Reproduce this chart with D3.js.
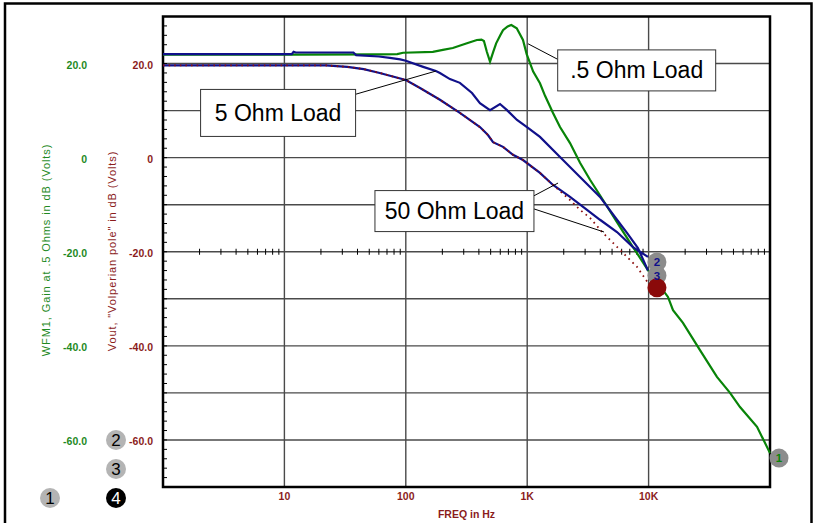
<!DOCTYPE html>
<html>
<head>
<meta charset="utf-8">
<script src="https://cdn.jsdelivr.net/npm/d3@7"></script>
<style>
  body { margin: 0; background: #fff; }
  svg { font-family: "Liberation Sans", Arial, sans-serif; }
</style>
</head>
<body>
<svg width="817" height="523"></svg>
<script>
// Gain vs frequency, three loads plus the "Volperian pole" model
const greenFreq = [1, 12, 60, 85, 95, 167, 202, 244, 319, 385, 420, 440, 465, 494, 525, 555, 600, 632, 690, 740, 820, 923, 990, 1120, 1274, 1400, 1632, 1863, 2253, 2723, 3292, 4210, 5808, 7436, 9878, 14440, 15890, 19190, 26500, 36560, 46850, 56620, 78200, 100000]
const greenDb = [21.9, 21.9, 21.95, 22.0, 22.3, 22.5, 22.9, 23.3, 24.3, 25.0, 25.1, 24.8, 22.5, 20.4, 22.5, 24.3, 26.0, 27.1, 27.9, 28.2, 27.5, 25.0, 22.0, 18.3, 15.8, 13.2, 9.5, 6.5, 3.1, -1.1, -4.7, -9.0, -14.7, -19.0, -23.9, -29.6, -32.4, -35.1, -40.9, -46.6, -50.0, -53.0, -57.2, -62.8]

const blue2Freq = [1, 11.5, 11.9, 12.4, 37, 39, 60, 74, 90, 100, 139, 177, 191, 231, 279, 351, 408, 494, 597, 682, 824, 996, 1274, 1863, 2723, 3978, 5491, 6637, 8171, 9878]
const blue2Db = [22.0, 22.0, 22.5, 22.35, 22.35, 21.8, 21.5, 21.2, 20.9, 20.6, 19.3, 18.4, 18.0, 16.7, 15.9, 13.75, 11.6, 10.1, 11.4, 10.1, 8.0, 6.5, 4.4, 0.15, -4.1, -8.35, -13.2, -16.0, -19.2, -24.0]

const blue3Freq = [1, 22, 33, 45, 61, 100, 131, 191, 279, 408, 475, 523, 632, 764, 923, 1274, 1632, 2253, 3110, 3978, 5491, 7436, 9878]
const blue3Db = [19.6, 19.6, 19.3, 18.8, 18.0, 16.5, 14.8, 12.3, 9.5, 6.5, 4.8, 3.3, 2.3, 0.6, -0.5, -3.25, -5.8, -8.35, -11.1, -13.2, -15.8, -19.0, -21.1]

const redFreq = [1, 22, 33, 45, 61, 100, 131, 191, 279, 408, 475, 523, 632, 764, 923, 1274, 1632, 2253, 2723, 3292, 4210, 5089, 6637, 8021, 9878]
const redDb = [19.6, 19.6, 19.3, 18.8, 18.0, 16.5, 14.8, 12.3, 9.5, 6.5, 4.8, 3.3, 2.3, 0.6, -0.5, -3.25, -5.8, -9.0, -11.1, -12.8, -16.0, -18.1, -21.1, -23.2, -26.6]

const xTicks = [10, 100, 1000, 10000]
const xTickLabels = ['10', '100', '1K', '10K']
const yTicks = [20, 0, -20, -40, -60]
const yTickLabels = ['20.0', '0', '-20.0', '-40.0', '-60.0']

const loadLabels = ['.5 Ohm Load', '5 Ohm Load', '50 Ohm Load']
const loadBoxFreq = [1783, 2.04, 55.7]
const loadBoxDb = [22.9, 14.5, -7.0]
// leaders: [target freq, target dB, attach freq, attach dB]
const loadLeaders = [
  [[1016, 24.2, 1783, 20.9]],
  [[177, 18.4, 38.9, 13.5]],
  [[1795, -5.4, 1138, -8.1], [4295, -15.8, 1138, -10.9]]
]

const colors = { green: '#088408', blue: '#10108a', red: '#8b0c0c', greenText: '#1f8a1f', redText: '#8b1c1c' }

const dim = { left: 163, right: 770, top: 16.5, bottom: 487 }
const svg = d3.select('svg')

const xScale = d3.scaleLog().domain([1, 100000]).range([dim.left, dim.right])
const yScale = d3.scaleLinear().domain([-70, 30]).range([dim.bottom, dim.top])

function toPoints (freq, db) {
  return freq.map((f, i) => ({ f, db: db[i] }))
}

function drawFrame () {
  svg.append('path')
    .attr('d', 'M5,523 L5,3.5 L811.5,3.5 L811.5,523')
    .attr('fill', 'none').attr('stroke', '#000').attr('stroke-width', 2.5)
}

function drawGrid () {
  const g = svg.append('g').attr('stroke', '#4a4a4a').attr('stroke-width', 1.4)
  d3.range(-60, 30, 10).forEach((v) => {
    g.append('line')
      .attr('x1', dim.left).attr('x2', dim.right)
      .attr('y1', yScale(v)).attr('y2', yScale(v))
  })
  xTicks.forEach((v) => {
    g.append('line')
      .attr('x1', xScale(v)).attr('x2', xScale(v))
      .attr('y1', dim.top).attr('y2', dim.bottom)
  })

  // minor log ticks sitting on the -20 line
  const t = svg.append('g').attr('stroke', '#000').attr('stroke-width', 1)
  for (let d = 0; d < 5; d++) {
    for (let m = 2; m <= 9; m++) {
      const x = xScale(m * Math.pow(10, d))
      t.append('line').attr('x1', x).attr('x2', x)
        .attr('y1', yScale(-20) - 3).attr('y2', yScale(-20) + 3)
    }
  }

  // minor ticks on the left axis, every 2 dB
  d3.range(-68, 30, 2).forEach((v) => {
    t.append('line')
      .attr('x1', dim.left).attr('x2', dim.left + 4)
      .attr('y1', yScale(v)).attr('y2', yScale(v))
  })

  svg.append('rect')
    .attr('x', dim.left).attr('y', dim.top)
    .attr('width', dim.right - dim.left).attr('height', dim.bottom - dim.top)
    .attr('fill', 'none').attr('stroke', '#000').attr('stroke-width', 2.5)
}

function drawAxisText () {
  const lab = svg.append('g').attr('font-size', 10.5).attr('font-weight', 'bold')
  yTicks.forEach((v, i) => {
    lab.append('text').attr('x', 87).attr('y', yScale(v) + 5)
      .attr('text-anchor', 'end').attr('fill', colors.greenText).text(yTickLabels[i])
    lab.append('text').attr('x', 153).attr('y', yScale(v) + 5)
      .attr('text-anchor', 'end').attr('fill', colors.redText).text(yTickLabels[i])
  })
  xTicks.forEach((v, i) => {
    lab.append('text').attr('x', xScale(v)).attr('y', 500)
      .attr('text-anchor', 'middle').attr('fill', colors.redText).text(xTickLabels[i])
  })
  lab.append('text').attr('x', (dim.left + dim.right) / 2).attr('y', 518)
    .attr('text-anchor', 'middle').attr('fill', colors.redText).text('FREQ in Hz')

  svg.append('text')
    .attr('transform', 'translate(50,250) rotate(-90)')
    .attr('text-anchor', 'middle').attr('font-size', 11).attr('letter-spacing', 0.9)
    .attr('fill', colors.greenText)
    .text('WFM1, Gain at .5 Ohms in dB (Volts)')
  svg.append('text')
    .attr('transform', 'translate(116,251) rotate(-90)')
    .attr('text-anchor', 'middle').attr('font-size', 11).attr('letter-spacing', 0.9)
    .attr('fill', colors.redText)
    .text('Vout, "Volperian pole" in dB (Volts)')
}

function drawCurves () {
  const line = d3.line()
    .x((d) => xScale(d.f))
    .y((d) => yScale(d.db))

  svg.append('path').datum(toPoints(greenFreq, greenDb))
    .attr('d', line).attr('fill', 'none')
    .attr('stroke', colors.green).attr('stroke-width', 2.2)
  svg.append('path').datum(toPoints(blue3Freq, blue3Db))
    .attr('d', line).attr('fill', 'none')
    .attr('stroke', colors.blue).attr('stroke-width', 2.2)
  svg.append('path').datum(toPoints(blue2Freq, blue2Db))
    .attr('d', line).attr('fill', 'none')
    .attr('stroke', colors.blue).attr('stroke-width', 2.2)
  svg.append('path').datum(toPoints(redFreq, redDb))
    .attr('d', line).attr('fill', 'none')
    .attr('stroke', colors.red).attr('stroke-width', 1.8)
    .attr('stroke-dasharray', '1.6,4')
}

function endPos (freq, db) {
  return [xScale(freq[freq.length - 1]) + 9, yScale(db[db.length - 1]) + 5]
}

function drawMarkers () {
  const ends = [
    [blue3Freq, blue3Db, '#8c8c8c', '2', colors.blue],
    [blue2Freq, blue2Db, '#8c8c8c', '3', colors.blue],
    [redFreq, redDb, '#8a0a0a', '', colors.red],
    [greenFreq, greenDb, '#8c8c8c', '1', colors.green]
  ]
  // circles first, numbers on top
  ends.forEach(([f, db, fill]) => {
    const [x, y] = endPos(f, db)
    svg.append('circle').attr('cx', x).attr('cy', y).attr('r', 9.5).attr('fill', fill)
  })
  ends.forEach(([f, db, fill, label, tc]) => {
    if (!label) return
    const [x, y] = endPos(f, db)
    svg.append('text').attr('x', x).attr('y', y + 4)
      .attr('text-anchor', 'middle').attr('font-size', 11.5).attr('font-weight', 'bold')
      .attr('fill', tc).text(label)
  })

  // key circles bottom left
  const keys = [[50, 498, '1', '#b4b4b4', '#000'], [116, 440, '2', '#b4b4b4', '#000'],
    [116, 469, '3', '#b4b4b4', '#000'], [116, 498, '4', '#000', '#fff']]
  keys.forEach(([x, y, t, fill, tc]) => {
    svg.append('circle').attr('cx', x).attr('cy', y).attr('r', 10).attr('fill', fill)
    svg.append('text').attr('x', x).attr('y', y + 6)
      .attr('text-anchor', 'middle').attr('font-size', 17).attr('fill', tc).text(t)
  })
}

function drawLabels () {
  const sizes = [[158, 41], [155, 47], [159, 41]]
  loadLabels.forEach((txt, i) => {
    loadLeaders[i].forEach(([tf, tdb, af, adb]) => {
      svg.append('line')
        .attr('x1', xScale(tf)).attr('y1', yScale(tdb))
        .attr('x2', xScale(af)).attr('y2', yScale(adb))
        .attr('stroke', '#000').attr('stroke-width', 1)
    })
    const x = xScale(loadBoxFreq[i])
    const y = yScale(loadBoxDb[i])
    svg.append('rect').attr('x', x).attr('y', y)
      .attr('width', sizes[i][0]).attr('height', sizes[i][1])
      .attr('fill', '#fff').attr('stroke', '#333').attr('stroke-width', 1)
    svg.append('text').attr('x', x + sizes[i][0] / 2).attr('y', y + sizes[i][1] / 2 + 8)
      .attr('text-anchor', 'middle').attr('font-size', 23).attr('fill', '#000').text(txt)
  })
}

drawFrame()
drawGrid()
drawAxisText()
drawCurves()
drawMarkers()
drawLabels()
</script>
</body>
</html>
